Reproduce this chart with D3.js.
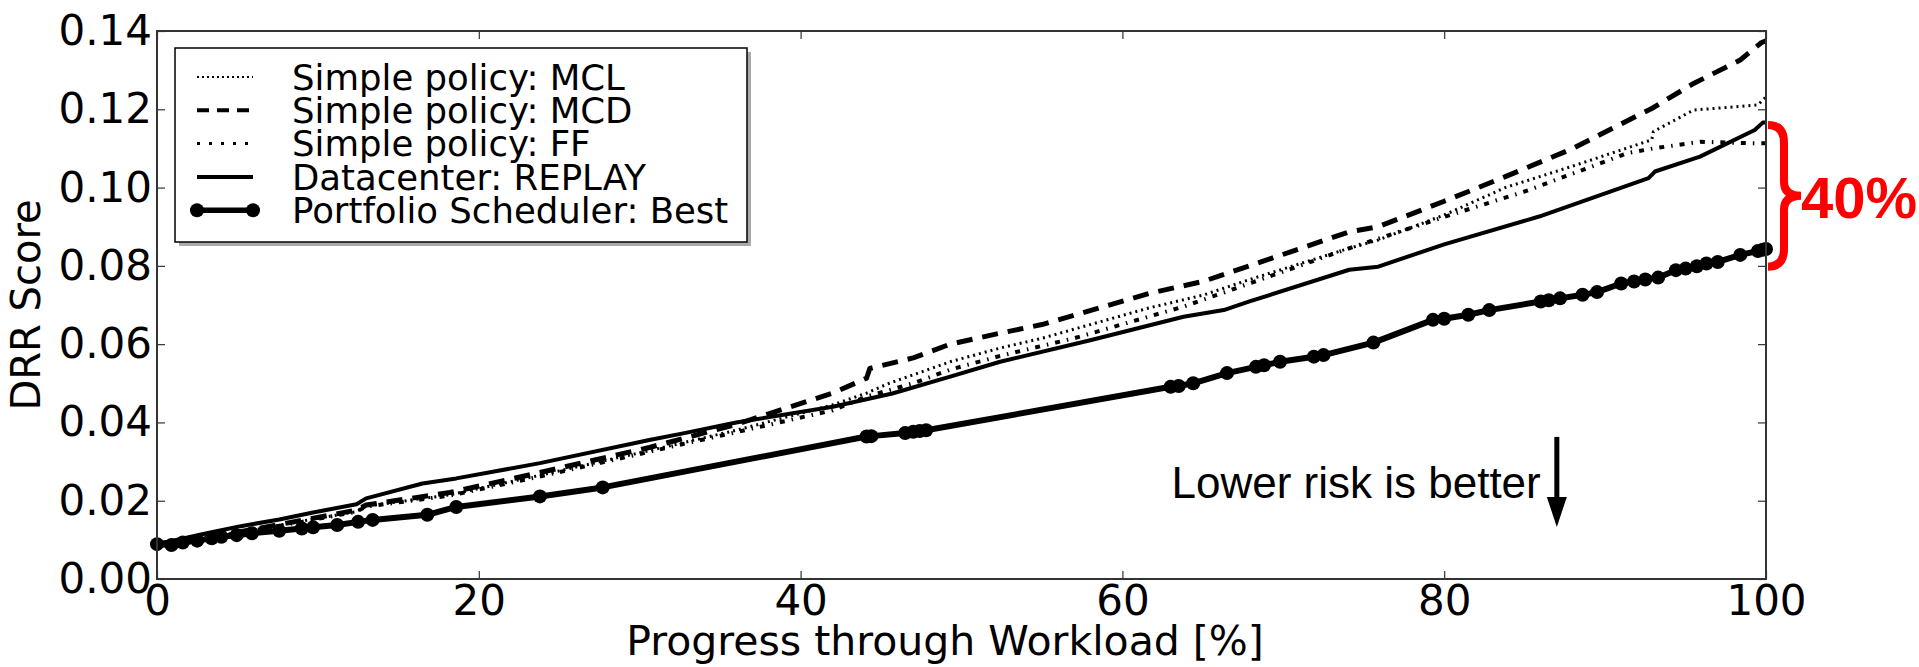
<!DOCTYPE html>
<html>
<head>
<meta charset="utf-8">
<script src="https://cdn.jsdelivr.net/npm/d3@7"></script>
<style>
body { margin: 0; background: #fff; }
text { font-family: "DejaVu Sans", sans-serif; fill: #000; }
</style>
</head>
<body>
<svg id="drr_graph" width="1919" height="667"></svg>
<script>

// values, x = progress [%], y = DRR score
let mcl_x = [0, 3, 6, 9, 12.4, 13, 18.2, 23.8, 30.6, 36, 42, 44.1, 45.5, 49.3, 52.4, 55, 61.7, 65, 67.9, 74.1, 75.9, 80, 83.8, 88, 92.9, 93.0, 95.5, 99.5, 100];
let mcl_y = [0.009, 0.0105, 0.0125, 0.0148, 0.0172, 0.0186, 0.0215, 0.0265, 0.0328, 0.038, 0.0445, 0.0475, 0.0500, 0.0555, 0.0590, 0.0615, 0.0693, 0.0725, 0.0765, 0.0845, 0.0866, 0.0930, 0.1000, 0.1055, 0.1122, 0.1143, 0.1198, 0.1211, 0.1232];

let mcd_x = [0, 3, 6, 9, 12.4, 13, 18.2, 23.8, 30.6, 36, 42, 44.1, 44.3, 47, 49.3, 52.4, 55, 61.7, 65, 67.9, 74.1, 75.9, 80, 83.8, 88, 92.9, 95.5, 98.4, 99.7, 100];
let mcd_y = [0.009, 0.0105, 0.0127, 0.015, 0.0176, 0.0189, 0.0221, 0.0272, 0.0336, 0.0395, 0.0475, 0.0513, 0.0538, 0.0565, 0.0600, 0.0628, 0.0650, 0.0730, 0.0760, 0.0800, 0.0887, 0.0900, 0.0965, 0.1028, 0.1100, 0.1202, 0.1266, 0.1326, 0.1370, 0.1375];

let ff_x = [0, 3, 6, 9, 12.4, 13, 18.2, 23.8, 30.6, 32.7, 36, 42, 44.1, 47, 49.3, 52.4, 57, 63.8, 67.9, 74.1, 80, 85, 91.4, 93, 95.9, 99.5, 100];
let ff_y = [0.009, 0.0104, 0.0124, 0.0146, 0.0172, 0.0185, 0.0213, 0.0262, 0.0325, 0.0345, 0.0375, 0.0431, 0.0466, 0.0500, 0.0535, 0.0570, 0.0615, 0.0696, 0.0755, 0.0845, 0.0925, 0.0990, 0.1088, 0.1100, 0.1117, 0.1113, 0.1113];

let replay_x = [0, 3.1, 5.2, 7.6, 9.7, 12.4, 13.0, 16.5, 18.6, 23.8, 30.6, 32.7, 36, 42, 45.7, 49.3, 52.4, 58, 63.8, 66.3, 67.9, 74.1, 75.9, 80, 85.9, 92.7, 93.1, 95.9, 99.3, 99.8, 100];
let replay_y = [0.0089, 0.0117, 0.0135, 0.0152, 0.0170, 0.0191, 0.0206, 0.0244, 0.0257, 0.0296, 0.0355, 0.0372, 0.0400, 0.0440, 0.0474, 0.0517, 0.0555, 0.0610, 0.0670, 0.0687, 0.0709, 0.0790, 0.0798, 0.0855, 0.0926, 0.1024, 0.1041, 0.1079, 0.1147, 0.1166, 0.1166];

let best_x = [0, 0.9, 1.6, 2.5, 3.4, 4.0, 4.95, 5.9, 7.6, 9.0, 9.7, 11.2, 12.5, 13.4, 16.8, 18.6, 23.8, 27.7, 44.1, 44.4, 46.5, 47.0, 47.4, 47.8, 63.0, 63.5, 64.4, 66.5, 68.3, 68.8, 69.8, 71.9, 72.5, 75.6, 79.3, 80.0, 81.5, 82.8, 86.0, 86.5, 87.2, 88.6, 89.5, 91.0, 91.8, 92.5, 93.3, 94.4, 95.0, 95.7, 96.3, 97.0, 98.4, 99.5, 99.8, 100];
let best_y = [0.0089, 0.0087, 0.0093, 0.0098, 0.0104, 0.0108, 0.0112, 0.0117, 0.0123, 0.0129, 0.0132, 0.0138, 0.0146, 0.0151, 0.0164, 0.0184, 0.0211, 0.0234, 0.0364, 0.0365, 0.0373, 0.0376, 0.0378, 0.0380, 0.0491, 0.0493, 0.0500, 0.0526, 0.0542, 0.0546, 0.0555, 0.0568, 0.0572, 0.0604, 0.0662, 0.0665, 0.0675, 0.0687, 0.0709, 0.0712, 0.0717, 0.0726, 0.0733, 0.0755, 0.0760, 0.0765, 0.0770, 0.0789, 0.0793, 0.0799, 0.0806, 0.0810, 0.0828, 0.0838, 0.0841, 0.0843];

let x_ticks = [0, 20, 40, 60, 80, 100];
let y_ticks = [0.00, 0.02, 0.04, 0.06, 0.08, 0.10, 0.12, 0.14];

let legend_labels = ["Simple policy: MCL", "Simple policy: MCD", "Simple policy: FF", "Datacenter: REPLAY", "Portfolio Scheduler: Best"];

// line styles, in legend order
let styles = [
    {width: 3, dash: "2,4", dash_legend: "2,3", width_legend: 2},
    {width: 5, dash: "16,10", dash_legend: "12,8", width_legend: 4},
    {width: 4, dash: "5,7,1.5,7", dash_legend: "3,9", width_legend: 3},
    {width: 4, dash: null, dash_legend: null, width_legend: 4},
    {width: 6, dash: null, dash_legend: null, width_legend: 5.5}
];

let series = [
    [mcl_x, mcl_y], [mcd_x, mcd_y], [ff_x, ff_y], [replay_x, replay_y], [best_x, best_y]
];

let svg = d3.select("#drr_graph"),
    margin = {top: 31, right: 153, bottom: 88, left: 157},
    width = svg.attr("width") - margin.left - margin.right,
    height = svg.attr("height") - margin.top - margin.bottom;

let x = d3.scaleLinear().domain([0, 100]).range([0, width]);
let y = d3.scaleLinear().domain([0, 0.14]).range([height, 0]);

let g = svg.append("g")
    .attr("transform", "translate(" + margin.left + "," + margin.top + ")");

// ticks inside on all four sides, like matplotlib classic
function tick_style(sel){
    sel.select(".domain").remove();
    sel.selectAll(".tick line").attr("stroke", "#333").attr("stroke-width", 1.2);
};

g.append("g")
    .attr("transform", "translate(0," + height + ")")
    .call(d3.axisBottom(x).tickValues(x_ticks).tickSizeInner(-8).tickPadding(6).tickFormat(d3.format("d")))
    .call(tick_style)
    .selectAll("text").style("font-size", "42px").style("font-family", "DejaVu Sans");

g.append("g")
    .call(d3.axisLeft(y).tickValues(y_ticks).tickSizeInner(-8).tickPadding(5).tickFormat(d3.format(".2f")))
    .call(tick_style)
    .selectAll("text").style("font-size", "42px").style("font-family", "DejaVu Sans");

g.append("g")
    .call(d3.axisTop(x).tickValues(x_ticks).tickSizeInner(-8).tickFormat(""))
    .call(tick_style);

g.append("g")
    .attr("transform", "translate(" + width + ",0)")
    .call(d3.axisRight(y).tickValues(y_ticks).tickSizeInner(-8).tickFormat(""))
    .call(tick_style);

// the lines
let line = d3.line()
    .x(d => x(d[0]))
    .y(d => y(d[1]));

for (let s = 0; s < series.length; s++){
    let pts = series[s][0].map((v, i) => [v, series[s][1][i]]);
    let path = g.append("path")
        .datum(pts)
        .attr("fill", "none")
        .attr("stroke", "#000")
        .attr("stroke-width", styles[s].width)
        .attr("stroke-linejoin", "round")
        .attr("d", line);
    if (styles[s].dash) path.attr("stroke-dasharray", styles[s].dash);
};

// markers of the portfolio scheduler
g.selectAll("circle.best")
    .data(best_x.map((v, i) => [v, best_y[i]]))
    .enter().append("circle")
    .attr("class", "best")
    .attr("cx", d => x(d[0]))
    .attr("cy", d => y(d[1]))
    .attr("r", 7)
    .attr("fill", "#000");

// plot frame
g.append("rect")
    .attr("width", width)
    .attr("height", height)
    .attr("fill", "none")
    .attr("stroke", "#333")
    .attr("stroke-width", 2);

// legend with shadow
let lg = svg.append("g").attr("transform", "translate(175,48)");
let lw = 572, lh = 194, row = 33.3;

lg.append("rect").attr("x", 4).attr("y", 4).attr("width", lw).attr("height", lh).attr("fill", "#aaa");
lg.append("rect").attr("width", lw).attr("height", lh).attr("fill", "#fff").attr("stroke", "#000").attr("stroke-width", 1.5);

for (let k = 0; k < legend_labels.length; k++){
    let cy = 29 + k * row;
    let l = lg.append("line")
        .attr("x1", 22).attr("x2", 78)
        .attr("y1", cy).attr("y2", cy)
        .attr("stroke", "#000")
        .attr("stroke-width", styles[k].width_legend);
    if (styles[k].dash_legend) l.attr("stroke-dasharray", styles[k].dash_legend);
    if (k == 4){
        lg.append("circle").attr("cx", 22).attr("cy", cy).attr("r", 7);
        lg.append("circle").attr("cx", 78).attr("cy", cy).attr("r", 7);
    };
    lg.append("text")
        .attr("x", 117)
        .attr("y", cy)
        .attr("dy", "0.36em")
        .style("font-size", "35.5px")
        .text(legend_labels[k]);
};

// axis labels
svg.append("text")
    .attr("x", 945)
    .attr("y", 655)
    .style("text-anchor", "middle")
    .style("font-size", "41px")
    .text("Progress through Workload [%]");

svg.append("text")
    .attr("transform", "rotate(-90)")
    .attr("x", -(margin.top + height / 2))
    .attr("y", 40)
    .style("text-anchor", "middle")
    .style("font-size", "40px")
    .text("DRR Score");

// annotation: text and arrow
g.append("text")
    .attr("x", x(86))
    .attr("y", y(0.0207))
    .style("text-anchor", "end")
    .style("font-family", "Liberation Sans")
    .style("font-size", "44px")
    .text("Lower risk is better");

let ax = x(87.0), a_top = y(0.0363), a_tip = y(0.0133);
g.append("line")
    .attr("x1", ax).attr("x2", ax)
    .attr("y1", a_top).attr("y2", a_tip - 28)
    .attr("stroke", "#000").attr("stroke-width", 5);
g.append("path")
    .attr("d", "M" + (ax - 10) + "," + (a_tip - 30) + "L" + (ax + 10) + "," + (a_tip - 30) + "L" + ax + "," + a_tip + "Z")
    .attr("fill", "#000");

// red brace: gap between replay and portfolio at the end
let b_top = y(0.1160), b_bot = y(0.0798), bx = width + 2, bm = (b_top + b_bot) / 2;
g.append("path")
    .attr("d", "M" + bx + "," + b_top
        + " Q" + (bx + 16) + "," + b_top + " " + (bx + 16) + "," + (b_top + 18)
        + " L" + (bx + 16) + "," + (bm - 14)
        + " Q" + (bx + 16) + "," + bm + " " + (bx + 33) + "," + bm
        + " Q" + (bx + 16) + "," + bm + " " + (bx + 16) + "," + (bm + 14)
        + " L" + (bx + 16) + "," + (b_bot - 18)
        + " Q" + (bx + 16) + "," + b_bot + " " + bx + "," + b_bot)
    .attr("fill", "none")
    .attr("stroke", "#ff0000")
    .attr("stroke-width", 8);

g.append("text")
    .attr("x", bx + 33)
    .attr("y", bm + 22)
    .style("font-family", "Liberation Sans")
    .style("font-weight", "bold")
    .style("font-size", "58px")
    .style("fill", "#ff0000")
    .text("40%");

</script>
</body>
</html>
